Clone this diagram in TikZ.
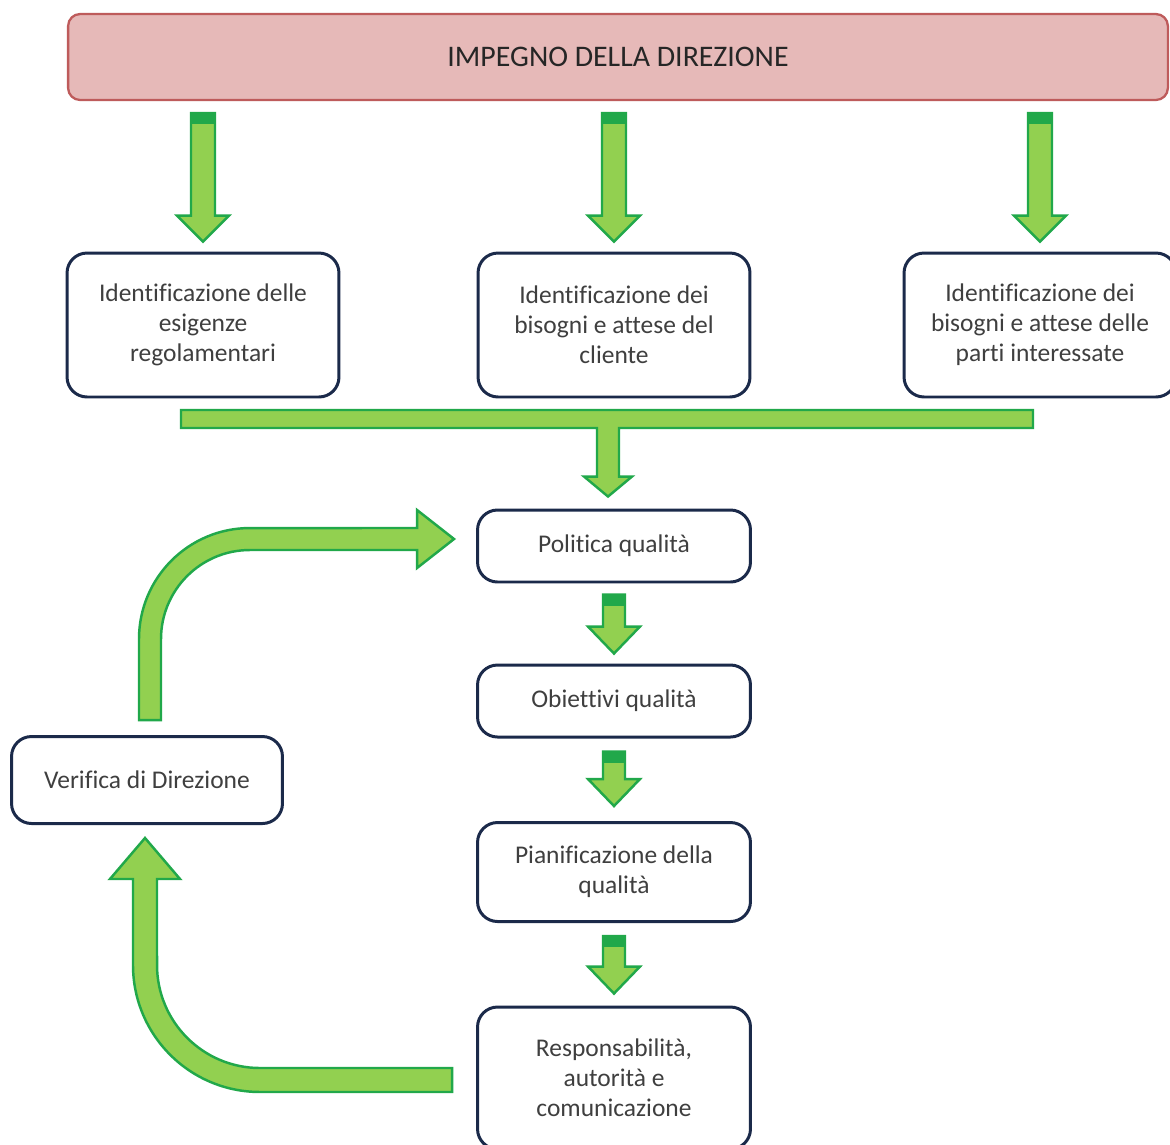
\documentclass[tikz,border=0pt]{standalone}
\usepackage{fontspec}
\setmainfont[Ligatures=NoCommon]{Carlito}
\usetikzlibrary{calc}

\definecolor{navy}{HTML}{1B2A4A}
\definecolor{pinkfill}{HTML}{E6B9B8}
\definecolor{pinkline}{HTML}{BE5B5B}
\definecolor{arrowfill}{HTML}{92D050}
\definecolor{arrowline}{HTML}{21A84A}
\definecolor{txtgray}{HTML}{3F3F3F}

\tikzset{
  stepbox/.style={draw=navy, line width=1.7pt, fill=white, rounded corners=0.4cm,
    align=center, inner sep=0pt, text=txtgray,
    font=\fontsize{14.5}{17}\selectfont},
  headbox/.style={draw=pinkline, line width=1.3pt, fill=pinkfill, rounded corners=0.24cm,
    inner sep=0pt, text=black!85, font=\fontsize{17}{20}\selectfont},
  blockarrow/.style={fill=arrowfill, draw=arrowline, line width=1.4pt, line join=miter},
}

% straight block arrow pointing down: #1 top centre, #2 tip,
% #3 half shaft, #4 half head, #5 head length (all in px units)
\newcommand\downblock[5]{%
  \filldraw[blockarrow] let \p1=(#1), \p2=(#2) in
    ($(\x1,\y1)+(-#3,0)$) -- ($(\x1,\y1)+(#3,0)$) -- ($(\x1,\y2)+(#3,#5)$)
    -- ($(\x1,\y2)+(#4,#5)$) -- (\x1,\y2) -- ($(\x1,\y2)+(-#4,#5)$)
    -- ($(\x1,\y2)+(-#3,#5)$) -- cycle;
  \fill[arrowline] let \p1=(#1) in
    ($(\x1,\y1)+(-#3,0)$) rectangle ($(\x1,\y1)+(#3,-11)$);
}

\begin{document}
\begin{tikzpicture}[x=0.02cm, y=0.02cm]
\useasboundingbox (0,0) rectangle (1170,-1144);
\clip (0,0) rectangle (1170,-1144);
\fill[white] (0,0) rectangle (1170,-1144);

% boxes
\node[headbox, minimum width=22cm, minimum height=1.72cm] (top) at (618,-57) {IMPEGNO DELLA DIREZIONE};

\node[stepbox, minimum width=5.44cm, minimum height=2.88cm] (b1) at (203,-325)
  {Identificazione delle\\esigenze\\regolamentari};
\node[stepbox, minimum width=5.44cm, minimum height=2.88cm] (b2) at (614,-325)
  {Identificazione dei\\bisogni e attese del\\cliente};
\node[stepbox, minimum width=5.44cm, minimum height=2.88cm] (b3) at (1040,-325)
  {Identificazione dei\\bisogni e attese delle\\parti interessate};

\node[stepbox, minimum width=5.46cm, minimum height=1.44cm] (pol) at (614,-546) {Politica qualità};
\node[stepbox, minimum width=5.46cm, minimum height=1.44cm] (obi) at (614,-701) {Obiettivi qualità};
\node[stepbox, minimum width=5.46cm, minimum height=1.98cm] (pia) at (614,-872)
  {Pianificazione della\\qualità};
\node[stepbox, minimum width=5.46cm, minimum height=2.84cm] (res) at (614,-1078)
  {Responsabilità,\\autorità e\\comunicazione};
\node[stepbox, minimum width=5.42cm, minimum height=1.74cm] (ver) at (147,-780)
  {Verifica di Direzione};

% arrows from the top box
\downblock{$(top.south -| b1)+(0,-12)$}{$(b1.north)+(0,10)$}{12}{26}{26}
\downblock{$(top.south -| b2)+(0,-12)$}{$(b2.north)+(0,10)$}{12}{26}{26}
\downblock{$(top.south -| b3)+(0,-12)$}{$(b3.north)+(0,10)$}{12}{26}{26}

% collecting bar into the quality policy
\coordinate (barL) at (181,-419);
\coordinate (barR) at (1033,-419);
\coordinate (barT) at ($(pol.north)+(-6,12)$);
\filldraw[blockarrow] let \p1=(barL), \p2=(barR), \p3=(barT) in
  ($(\x1,\y1)+(0,9)$) -- ($(\x2,\y2)+(0,9)$) -- ($(\x2,\y2)+(0,-9)$)
  -- ($(\x3,\y2)+(11,-9)$) -- ($(\x3,\y3)+(11,20)$) -- ($(\x3,\y3)+(24,20)$)
  -- (\x3,\y3) -- ($(\x3,\y3)+(-24,20)$) -- ($(\x3,\y3)+(-11,20)$)
  -- ($(\x3,\y2)+(-11,-9)$) -- ($(\x1,\y1)+(0,-9)$) -- cycle;

% arrows along the central chain
\downblock{$(pol.south)+(0,-11)$}{$(obi.north)+(0,10)$}{11}{26}{27}
\downblock{$(obi.south)+(0,-13)$}{$(pia.north)+(0,15)$}{11}{26}{27}
\downblock{$(pia.south)+(0,-13)$}{$(res.north)+(0,12)$}{11}{26}{27}

% feedback: management review back to the quality policy
\coordinate (uS) at ($(ver.north)+(3,15)$);
\coordinate (uT) at ($(pol.west)+(-22,7)$);
\filldraw[blockarrow] let \p1=(uS), \p2=(uT) in
  ($(\x1,\y1)+(-11,0)$) -- ($(\x1,\y2)+(-11,-100)$)
  arc[start angle=180, end angle=90, radius=2.22cm]
  -- ($(\x2,\y2)+(-37,11)$) -- ($(\x2,\y2)+(-37,29)$) -- (\x2,\y2)
  -- ($(\x2,\y2)+(-37,-29)$) -- ($(\x2,\y2)+(-37,-11)$)
  -- ($(\x1,\y2)+(100,-11)$)
  arc[start angle=90, end angle=180, radius=1.78cm]
  -- ($(\x1,\y1)+(11,0)$) -- cycle;

% responsibilities feeding the management review
\coordinate (lS) at ($(res.west)+(-24,-2)$);
\coordinate (lT) at ($(ver.south)+(-2,-13)$);
\filldraw[blockarrow] let \p1=(lS), \p2=(lT) in
  ($(\x1,\y1)+(0,12)$) -- ($(\x2,\y1)+(115,12)$)
  arc[start angle=270, end angle=180, radius=2.06cm]
  -- ($(\x2,\y2)+(12,-41)$) -- ($(\x2,\y2)+(35,-41)$) -- (\x2,\y2)
  -- ($(\x2,\y2)+(-35,-41)$) -- ($(\x2,\y2)+(-12,-41)$)
  -- ($(\x2,\y1)+(-12,115)$)
  arc[start angle=180, end angle=270, radius=2.54cm]
  -- ($(\x1,\y1)+(0,-12)$) -- cycle;
\end{tikzpicture}
\end{document}
